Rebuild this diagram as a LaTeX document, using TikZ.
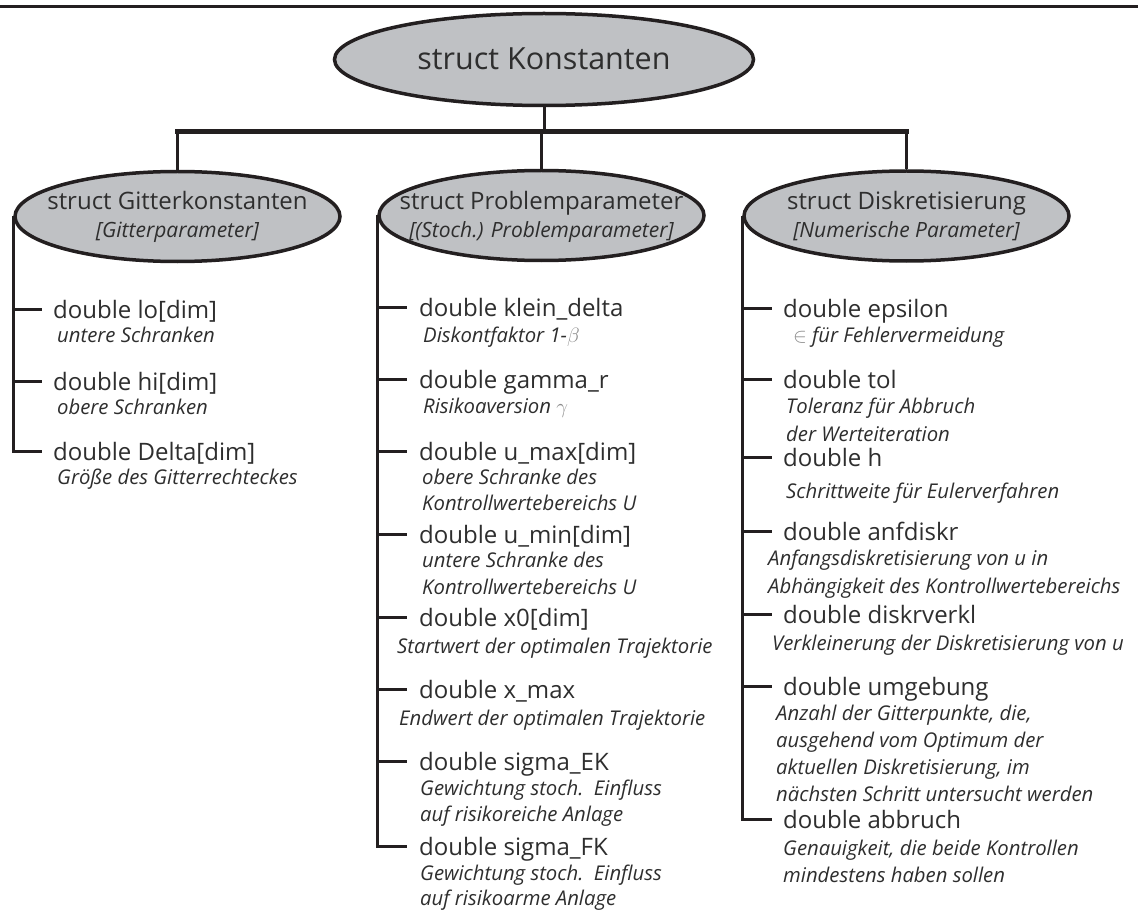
\documentclass[tikz,border=0pt]{standalone}
\usepackage{fontspec}
\setmainfont{Open Sans}
\usetikzlibrary{shapes.geometric}
\definecolor{ink}{HTML}{231F20}
\definecolor{txt}{HTML}{2E2E2E}
\definecolor{ellfill}{HTML}{BFC1C4}
\definecolor{sym}{HTML}{8C8C8C}
\newcommand\itemfont{\fontsize{24}{28}\selectfont}
\newcommand\descfont{\fontsize{20.3}{24}\selectfont\itshape}
\begin{document}
\begin{tikzpicture}[x=1pt,y=-1pt,
  ell/.style={ellipse, draw=ink, line width=3.5pt, fill=ellfill, inner sep=0pt,
    minimum width=325pt, minimum height=90pt},
  ttl/.style={anchor=base, inner sep=0pt, text=txt, font=\fontsize{24}{28}\selectfont},
  sub/.style={anchor=base, inner sep=0pt, text=txt, font=\fontsize{21}{24}\selectfont\itshape},
  itm/.style={anchor=base west, inner sep=0pt, font=\itemfont, text=txt},
  dsc/.style={anchor=base west, inner sep=0pt, font=\descfont, text=txt},
  conn/.style={draw=ink, line width=3pt},
  tree/.style={draw=ink, line width=3pt, line join=miter},
  barline/.style={draw=ink, line width=5pt, line cap=rect},
  rule/.style={draw=ink, line width=3pt}]
\useasboundingbox (0,0) rectangle (1138,912);
\fill[white] (0,0) rectangle (1138,912);
\draw[rule] (0,7) -- (1138,7);

% main nodes
\node[ell, minimum width=419pt, minimum height=92pt] (root) at (544,59.5) {};
\node[ttl, font=\fontsize{30.5}{34}\selectfont] (roott) at ([yshift=-10.5pt]root.center) {struct Konstanten};

\node[ell] (g) at (177.5,216.5) {};
\node[ttl] (gt) at ([yshift=6.5pt]g.center) {struct Gitterkonstanten};
\node[sub] (gs) at ([yshift=-21.5pt]g.center) {[Gitterparameter]};

\node[ell] (p) at (541.5,215.5) {};
\node[ttl] (pt) at ([yshift=5.5pt]p.center) {struct Problemparameter};
\node[sub] (ps) at ([yshift=-22.5pt]p.center) {[(Stoch.) Problemparameter]};

\node[ell] (d) at (906.5,216) {};
\node[ttl] (dt) at ([yshift=6pt]d.center) {struct Diskretisierung};
\node[sub] (ds) at ([yshift=-21pt]d.center) {[Numerische Parameter]};

% bar
\coordinate (bar) at (544,132);
\draw[conn] (root.south) -- (bar);
\draw[barline] (g.north |- bar) -- (d.north |- bar);
\draw[conn] (g.north |- bar) -- (g.north);
\draw[conn] (p.north |- bar) -- (p.north);
\draw[conn] (d.north |- bar) -- (d.north);

% left column
\node[itm] (g1) at (53,318) {double lo[dim]};
\node[dsc] (g1a) at (57,342) {untere Schranken};
\node[itm] (g2) at (53,390) {double hi[dim]};
\node[dsc] (g2a) at (57,414) {obere Schranken};
\node[itm] (g3) at (53,460) {double Delta[dim]};
\node[dsc] (g3a) at (57,484) {Größe des Gitterrechteckes};
\foreach \n in {g1,g2,g3}{\coordinate (\n e) at ([xshift=-11pt,yshift=8.5pt]\n.base west);}
\draw[tree] (g.west) |- (g3e);
\draw[tree] (g1e -| g.west) -- (g1e);
\draw[tree] (g2e -| g.west) -- (g2e);

% middle column
\node[itm] (p1) at (419,316) {double klein\_delta};
\node[dsc] (p1a) at (423,342) {Diskontfaktor 1-{\color{sym}$\beta$}};
\node[itm] (p2) at (419,388) {double gamma\_r};
\node[dsc] (p2a) at (423,413) {Risikoaversion {\color{sym}$\gamma$}};
\node[itm] (p3) at (419,460) {double u\_max[dim]};
\node[dsc] (p3a) at (422,484) {obere Schranke des};
\node[dsc] (p3b) at (422,510) {Kontrollwertebereichs U};
\node[itm] (p4) at (419,543) {double u\_min[dim]};
\node[dsc] (p4a) at (422,567) {untere Schranke des};
\node[dsc] (p4b) at (422,594) {Kontrollwertebereichs U};
\node[itm] (p5) at (419,626) {double x0[dim]};
\node[dsc] (p5a) at (397,653) {Startwert der optimalen Trajektorie};
\node[itm] (p6) at (419,698) {double x\_max};
\node[dsc] (p6a) at (399,725) {Endwert der optimalen Trajektorie};
\node[itm] (p7) at (419,770) {double sigma\_EK};
\node[dsc] (p7a) at (420,795) {Gewichtung stoch.\ \ Einfluss};
\node[dsc] (p7b) at (420,821) {auf risikoreiche Anlage};
\node[itm] (p8) at (419,855) {double sigma\_FK};
\node[dsc] (p8a) at (420,880) {Gewichtung stoch.\ \ Einfluss};
\node[dsc] (p8b) at (420,905) {auf risikoarme Anlage};
\foreach \n in {p1,p2,p3,p4,p5,p6,p7,p8}{\coordinate (\n e) at ([xshift=-12pt,yshift=8.5pt]\n.base west);}
\draw[tree] (p.west) |- (p8e);
\foreach \n in {p1,p2,p3,p4,p5,p6,p7}{\draw[tree] (\n e -| p.west) -- (\n e);}

% right column
\node[itm] (d1) at (783,317) {double epsilon};
\node[dsc] (d1a) at (793,342) {{\color{sym}$\in$}\hspace{5pt}für Fehlervermeidung};
\node[itm] (d2) at (783,388) {double tol};
\node[dsc] (d2a) at (786,413) {Toleranz für Abbruch};
\node[dsc] (d2b) at (786,441) {der Werteiteration};
\node[itm] (d3) at (783,466) {double h};
\node[dsc] (d3a) at (786,498) {Schrittweite für Eulerverfahren};
\node[itm] (d4) at (783,540) {double anfdiskr};
\node[dsc] (d4a) at (768,565) {Anfangsdiskretisierung von u in};
\node[dsc] (d4b) at (768,593) {Abhängigkeit des Kontrollwertebereichs};
\node[itm] (d5) at (783,623) {double diskrverkl};
\node[dsc] (d5a) at (772,650) {Verkleinerung der Diskretisierung von u};
\node[itm] (d6) at (783,695) {double umgebung};
\node[dsc] (d6a) at (776,720) {Anzahl der Gitterpunkte, die,};
\node[dsc] (d6b) at (776,747) {ausgehend vom Optimum der};
\node[dsc] (d6c) at (776,774) {aktuellen Diskretisierung, im};
\node[dsc] (d6d) at (776,801) {nächsten Schritt untersucht werden};
\node[itm] (d7) at (783,828) {double abbruch};
\node[dsc] (d7a) at (783,855) {Genauigkeit, die beide Kontrollen};
\node[dsc] (d7b) at (783,882) {mindestens haben sollen};
\foreach \n in {d1,d2,d3,d4,d5,d6,d7}{\coordinate (\n e) at ([xshift=-11pt,yshift=8.5pt]\n.base west);}
\draw[tree] (d.west) |- (d7e);
\foreach \n in {d1,d2,d3,d4,d5,d6}{\draw[tree] (\n e -| d.west) -- (\n e);}
\end{tikzpicture}
\end{document}
